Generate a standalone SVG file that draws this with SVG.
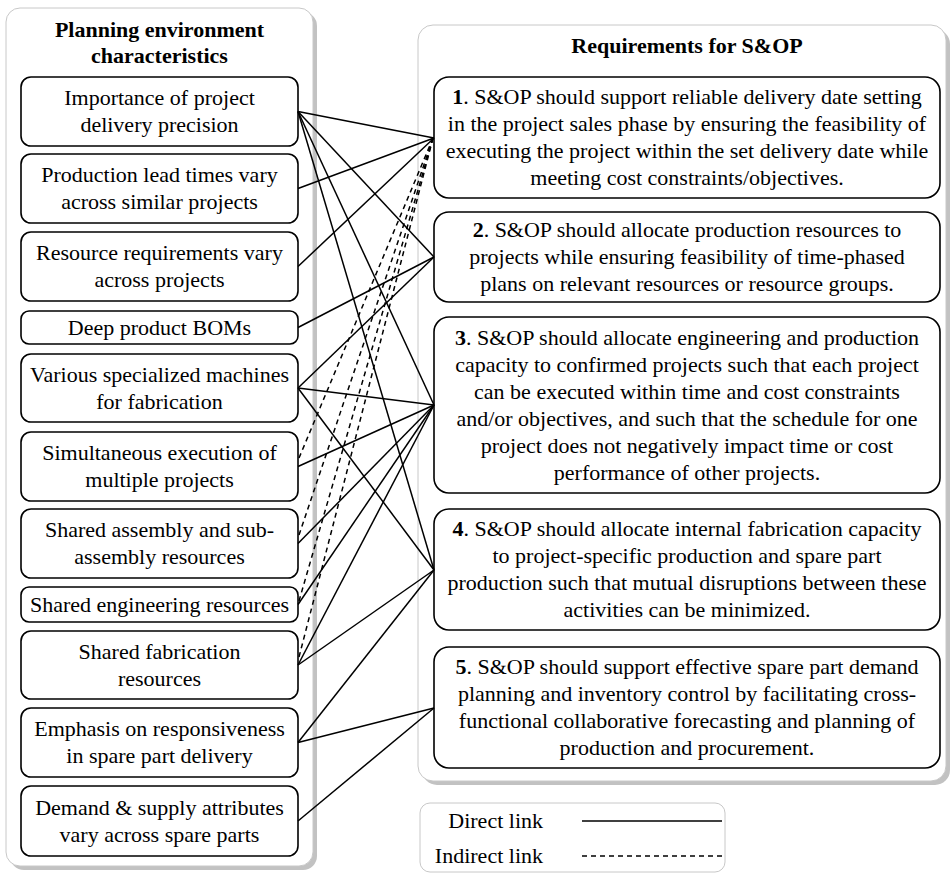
<svg xmlns="http://www.w3.org/2000/svg" width="951" height="875" viewBox="0 0 951 875">
  <style>
    .panel { fill: #ffffff; stroke: #c8c8c8; stroke-width: 1; }
    .shadow { fill: #c2c2c2; }
    .box { fill: #ffffff; stroke: #000000; stroke-width: 1.6; }
    .legend { fill: #ffffff; stroke: #c8c8c8; stroke-width: 1; }
    text { font-family: "Liberation Serif", "Times New Roman", serif; font-size: 22px; fill: #000000; }
    .title { font-weight: bold; text-anchor: middle; }
    .c { text-anchor: middle; }
    .num { font-weight: bold; }
    .direct { stroke: #000000; stroke-width: 1.5; fill: none; }
    .indirect { stroke: #000000; stroke-width: 1.5; fill: none; stroke-dasharray: 5 4; }
  </style>

  <!-- background panels -->
  <g id="panel-left">
    <rect class="shadow" x="10" y="12" width="307" height="858" rx="14"/>
    <rect class="panel" x="6" y="8" width="307" height="858" rx="14"/>
    <text class="title" x="159.5" y="37">Planning environment</text>
    <text class="title" x="159.5" y="63">characteristics</text>
  </g>
  <g id="panel-right">
    <rect class="shadow" x="422" y="29" width="528" height="756" rx="15"/>
    <rect class="panel" x="418" y="25" width="528" height="756" rx="15"/>
    <text class="title" x="687" y="53">Requirements for S&amp;OP</text>
  </g>

  <!-- planning environment characteristics -->
  <g id="c1">
    <rect class="box" x="21" y="77" width="277" height="69" rx="10"/>
    <text class="c" x="159.5" y="105">Importance of project</text>
    <text class="c" x="159.5" y="132">delivery precision</text>
  </g>
  <g id="c2">
    <rect class="box" x="21" y="154" width="277" height="69" rx="10"/>
    <text class="c" x="159.5" y="182">Production lead times vary</text>
    <text class="c" x="159.5" y="209">across similar projects</text>
  </g>
  <g id="c3">
    <rect class="box" x="21" y="232" width="277" height="69" rx="10"/>
    <text class="c" x="159.5" y="260">Resource requirements vary</text>
    <text class="c" x="159.5" y="287">across projects</text>
  </g>
  <g id="c4">
    <rect class="box" x="21" y="311" width="277" height="33" rx="8"/>
    <text class="c" x="159.5" y="335">Deep product BOMs</text>
  </g>
  <g id="c5">
    <rect class="box" x="21" y="354" width="277" height="68" rx="10"/>
    <text class="c" x="159.5" y="382">Various specialized machines</text>
    <text class="c" x="159.5" y="409">for fabrication</text>
  </g>
  <g id="c6">
    <rect class="box" x="21" y="432" width="277" height="69" rx="10"/>
    <text class="c" x="159.5" y="460">Simultaneous execution of</text>
    <text class="c" x="159.5" y="487">multiple projects</text>
  </g>
  <g id="c7">
    <rect class="box" x="21" y="509" width="277" height="69" rx="10"/>
    <text class="c" x="159.5" y="537">Shared assembly and sub-</text>
    <text class="c" x="159.5" y="564">assembly resources</text>
  </g>
  <g id="c8">
    <rect class="box" x="21" y="587" width="277" height="35" rx="8"/>
    <text class="c" x="159.5" y="612">Shared engineering resources</text>
  </g>
  <g id="c9">
    <rect class="box" x="21" y="631" width="277" height="68" rx="10"/>
    <text class="c" x="159.5" y="659">Shared fabrication</text>
    <text class="c" x="159.5" y="686">resources</text>
  </g>
  <g id="c10">
    <rect class="box" x="21" y="708" width="277" height="69" rx="10"/>
    <text class="c" x="159.5" y="736">Emphasis on responsiveness</text>
    <text class="c" x="159.5" y="763">in spare part delivery</text>
  </g>
  <g id="c11">
    <rect class="box" x="21" y="786" width="277" height="70" rx="10"/>
    <text class="c" x="159.5" y="815">Demand &amp; supply attributes</text>
    <text class="c" x="159.5" y="842">vary across spare parts</text>
  </g>

  <!-- requirements -->
  <g id="r1">
    <rect class="box" x="434" y="77" width="506" height="121" rx="15"/>
    <text class="c" x="687" y="104"><tspan class="num">1</tspan>. S&amp;OP should support reliable delivery date setting</text>
    <text class="c" x="687" y="131">in the project sales phase by ensuring the feasibility of</text>
    <text class="c" x="687" y="158">executing the project within the set delivery date while</text>
    <text class="c" x="687" y="185">meeting cost constraints/objectives.</text>
  </g>
  <g id="r2">
    <rect class="box" x="434" y="212" width="506" height="90" rx="15"/>
    <text class="c" x="687" y="237"><tspan class="num">2</tspan>. S&amp;OP should allocate production resources to</text>
    <text class="c" x="687" y="264">projects while ensuring feasibility of time-phased</text>
    <text class="c" x="687" y="291">plans on relevant resources or resource groups.</text>
  </g>
  <g id="r3">
    <rect class="box" x="434" y="317" width="506" height="176" rx="15"/>
    <text class="c" x="687" y="345"><tspan class="num">3</tspan>. S&amp;OP should allocate engineering and production</text>
    <text class="c" x="687" y="372">capacity to confirmed projects such that each project</text>
    <text class="c" x="687" y="399">can be executed within time and cost constraints</text>
    <text class="c" x="687" y="426">and/or objectives, and such that the schedule for one</text>
    <text class="c" x="687" y="453">project does not negatively impact time or cost</text>
    <text class="c" x="687" y="480">performance of other projects.</text>
  </g>
  <g id="r4">
    <rect class="box" x="434" y="509" width="506" height="121" rx="15"/>
    <text class="c" x="687" y="536"><tspan class="num">4</tspan>. S&amp;OP should allocate internal fabrication capacity</text>
    <text class="c" x="687" y="563">to project-specific production and spare part</text>
    <text class="c" x="687" y="590">production such that mutual disruptions between these</text>
    <text class="c" x="687" y="617">activities can be minimized.</text>
  </g>
  <g id="r5">
    <rect class="box" x="434" y="647" width="506" height="121" rx="15"/>
    <text class="c" x="687" y="674"><tspan class="num">5</tspan>. S&amp;OP should support effective spare part demand</text>
    <text class="c" x="687" y="701">planning and inventory control by facilitating cross-</text>
    <text class="c" x="687" y="728">functional collaborative forecasting and planning of</text>
    <text class="c" x="687" y="755">production and procurement.</text>
  </g>

  <!-- links between characteristics and requirements -->
  <g id="connectors">
    <line class="direct" x1="298" y1="111.5" x2="434" y2="138"/>
    <line class="direct" x1="298" y1="111.5" x2="434" y2="257"/>
    <line class="direct" x1="298" y1="111.5" x2="434" y2="405"/>
    <line class="direct" x1="298" y1="111.5" x2="434" y2="570"/>
    <line class="direct" x1="298" y1="188.5" x2="434" y2="138"/>
    <line class="direct" x1="298" y1="266.5" x2="434" y2="138"/>
    <line class="direct" x1="298" y1="327.5" x2="434" y2="257"/>
    <line class="direct" x1="298" y1="388" x2="434" y2="257"/>
    <line class="direct" x1="298" y1="388" x2="434" y2="405"/>
    <line class="direct" x1="298" y1="388" x2="434" y2="570"/>
    <line class="direct" x1="298" y1="466.5" x2="434" y2="405"/>
    <line class="direct" x1="298" y1="543.5" x2="434" y2="405"/>
    <line class="direct" x1="298" y1="604.5" x2="434" y2="405"/>
    <line class="direct" x1="298" y1="665" x2="434" y2="405"/>
    <line class="direct" x1="298" y1="665" x2="434" y2="570"/>
    <line class="direct" x1="298" y1="742.5" x2="434" y2="570"/>
    <line class="direct" x1="298" y1="742.5" x2="434" y2="708"/>
    <line class="direct" x1="298" y1="821" x2="434" y2="708"/>
    <line class="indirect" x1="299" y1="458" x2="433" y2="138"/>
    <line class="indirect" x1="299" y1="535" x2="433" y2="138"/>
    <line class="indirect" x1="299" y1="601" x2="433" y2="138"/>
    <line class="indirect" x1="299" y1="657" x2="433" y2="138"/>
  </g>

  <!-- legend -->
  <g id="legend">
    <rect class="legend" x="420" y="803" width="305" height="69" rx="10"/>
    <text x="543" y="828" text-anchor="end">Direct link</text>
    <text x="543" y="863" text-anchor="end">Indirect link</text>
    <line class="direct" x1="582" y1="821" x2="722" y2="821" stroke-width="1.8"/>
    <line class="indirect" x1="582" y1="856" x2="722" y2="856"/>
  </g>
</svg>
